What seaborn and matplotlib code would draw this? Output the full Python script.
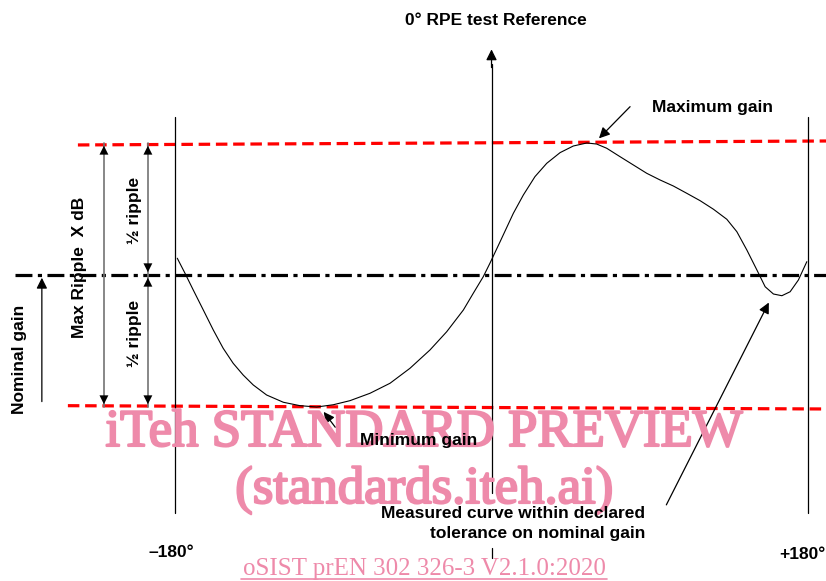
import matplotlib.pyplot as plt
import matplotlib.patheffects as pe
import seaborn as sns
import pandas as pd

# measured gain curve
# angle in degrees, gain relative to nominal (1 = half ripple)
angle = [-178.7, -174.3, -169.6, -163.9, -158.2, -152.6, -146.9, -141.2, -135.5, -127.9,
         -118.4, -108.9, -99.4, -90.0, -80.5, -69.1, -57.7, -46.4, -35.0, -25.5,
         -16.0, -10.4, -4.7, -0.9, 4.8, 12.4, 18.1, 24.7, 31.4, 39.0,
         46.5, 54.2, 59.8, 65.5, 73.1, 80.7, 88.3, 95.8, 103.4, 111.0,
         118.6, 126.2, 133.8, 139.5, 145.2, 150.9, 155.6, 160.3, 165.1, 169.8,
         174.5, 179.3]
gain = [0.127, 0.013, -0.114, -0.265, -0.417, -0.555, -0.669, -0.758, -0.833, -0.909,
        -0.964, -0.990, -1.000, -0.983, -0.952, -0.896, -0.820, -0.707, -0.568, -0.430,
        -0.265, -0.139, -0.013, 0.089, 0.25, 0.467, 0.606, 0.745, 0.846, 0.927,
        0.977, 1.000, 0.992, 0.960, 0.896, 0.833, 0.770, 0.720, 0.674, 0.619,
        0.563, 0.498, 0.422, 0.328, 0.189, 0.038, -0.089, -0.144, -0.157, -0.127,
        -0.038, 0.101]

half_ripple = 1.0
angle_ticks = ["\u2013180°", "+180°"]

df = pd.DataFrame({"angle": angle, "gain": gain})

sns.set_style("white")
plt.rcParams["font.family"] = ["Liberation Sans", "DejaVu Sans"]

fig = plt.figure(figsize=(8.26, 5.81), dpi=100)
ax = fig.add_axes([0, 0, 1, 1])
ax.set_xlim(-279.5, 190.2)
ax.set_ylim(-2.318, 2.083)
ax.axis("off")

# measured curve
sns.lineplot(data=df, x="angle", y="gain", color="black", linewidth=0.8, ax=ax, zorder=3)

# nominal gain and ripple limits
ax.plot([-271, 190.2], [0, 0], color="black", linewidth=2.3, dashes=(5.3, 1.7, 1.3, 1.7), zorder=2)
ax.plot([-235.2, 190.2], [half_ripple - 0.015, half_ripple + 0.015], color="red", linewidth=2.3,
        dashes=(3.6, 1.8), zorder=2)
ax.plot([-240.9, 190.2], [-half_ripple + 0.01, -half_ripple - 0.015], color="red", linewidth=2.3,
        dashes=(3.6, 1.8), zorder=2)

# vertical reference lines
ax.plot([-180, -180], [1.20, -1.80], color="black", linewidth=0.9)
ax.plot([180, 180], [1.20, -1.80], color="black", linewidth=0.9)
ax.plot([0, 0], [-1.65, 1.60], color="black", linewidth=0.9)
ax.plot([0, 0], [-2.07, -2.14], color="black", linewidth=0.9)
ax.annotate("", xy=(0, 1.73), xytext=(0, 1.55),
            arrowprops=dict(arrowstyle="-|>", color="black", lw=0.9, mutation_scale=16))


def dim_arrow(x, y0, y1, shaft="0.45"):
    ax.plot([x, x], [y0, y1], color=shaft, linewidth=1.2)
    d = 0.08 if y1 > y0 else -0.08
    ax.annotate("", xy=(x, y1), xytext=(x, y1 - d),
                arrowprops=dict(arrowstyle="-|>", color="black", lw=0, mutation_scale=16))
    ax.annotate("", xy=(x, y0), xytext=(x, y0 + d),
                arrowprops=dict(arrowstyle="-|>", color="black", lw=0, mutation_scale=16))


dim_arrow(-220.4, -half_ripple, half_ripple)
dim_arrow(-195.4, 0, half_ripple)
dim_arrow(-195.4, -half_ripple, 0)

ax.annotate("", xy=(-255.7, 0.0), xytext=(-255.7, -0.98),
            arrowprops=dict(arrowstyle="-|>", color="black", lw=0.9, mutation_scale=16))

tkw = dict(fontsize=12.5, fontweight="bold", color="black", zorder=6)
ax.text(-234.1, 0.06, "Max Ripple  X dB", rotation=90, ha="center", va="center", **tkw)
ax.text(-202.8, 0.49, "½ ripple", rotation=90, ha="center", va="center", **tkw)
ax.text(-202.8, -0.44, "½ ripple", rotation=90, ha="center", va="center", **tkw)
ax.text(-268.2, -0.64, "Nominal gain", rotation=90, ha="center", va="center", **tkw)
ax.text(2.6, 1.93, "0° RPE test Reference", ha="center", va="center", **tkw)

ax.text(91.3, 1.265, "Maximum gain", ha="left", va="center", **tkw)
ax.annotate("", xy=(60, 1.02), xytext=(79.9, 1.29),
            arrowprops=dict(arrowstyle="-|>", color="black", lw=0.9, mutation_scale=16))

ax.text(-74.8, -1.25, "Minimum gain", ha="left", va="center", **tkw)
ax.annotate("", xy=(-96.4, -1.02), xytext=(-87.9, -1.17),
            arrowprops=dict(arrowstyle="-|>", color="black", lw=0.9, mutation_scale=16))

ax.text(87.3, -1.88, "Measured curve within declared\ntolerance on nominal gain",
        ha="right", va="center", linespacing=1.4, **tkw)
ax.annotate("", xy=(158.4, -0.19), xytext=(98.7, -1.76),
            arrowprops=dict(arrowstyle="-|>", color="black", lw=0.9, mutation_scale=16))

ax.text(-182.3, -2.10, angle_ticks[0], ha="center", va="center", **tkw)
ax.text(176.6, -2.12, angle_ticks[1], ha="center", va="center", **tkw)

# watermark
wm = "#EE8AAA"
wkw = dict(family=["Liberation Serif", "DejaVu Serif"], color=wm, ha="center", va="baseline", zorder=5)
thick = [pe.withStroke(linewidth=1.6, foreground=wm)]
ax.text(-38.3, -1.295, "iTeh STANDARD PREVIEW", fontsize=38, path_effects=thick, **wkw)
ax.text(-38.3, -1.727, "(standards.iteh.ai)", fontsize=38, path_effects=thick, **wkw)
ax.text(-38.3, -2.27, "oSIST prEN 302 326-3 V2.1.0:2020", fontsize=18, **wkw)
ax.plot([-142.6, 65.5], [-2.30, -2.30], color=wm, linewidth=1.2, zorder=5)

fig.savefig("out.png", dpi=100)
